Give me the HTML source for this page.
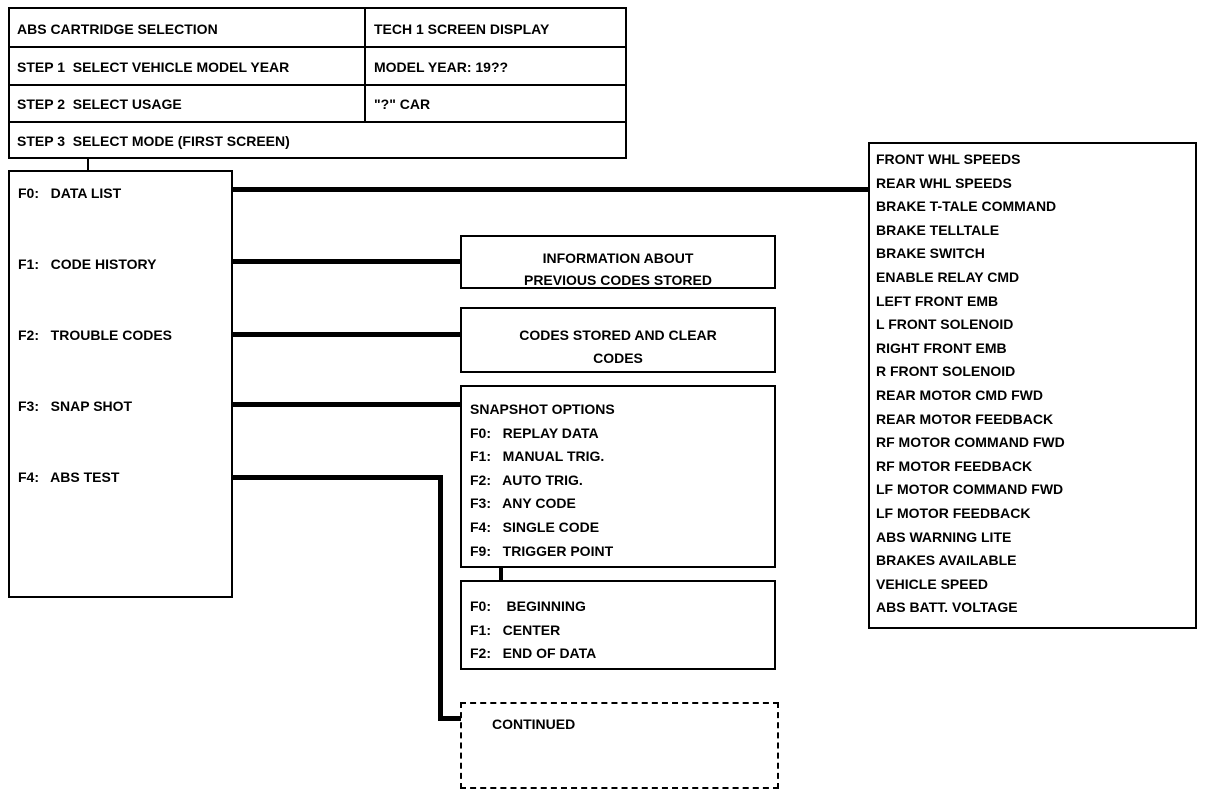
<!DOCTYPE html>
<html><head><style>
body{margin:0;width:1216px;height:796px;background:#fff;position:relative;overflow:hidden;font-family:"Liberation Sans",sans-serif;font-weight:bold;font-size:14px;color:#000}
.b{position:absolute;border:2px solid #000;box-sizing:border-box}
.t{position:absolute;white-space:nowrap;line-height:1}
.l{position:absolute;background:#000}
</style></head><body>
<div class="b" style="left:8px;top:7px;width:619px;height:152px"></div>
<div class="l" style="left:8px;top:46px;width:619px;height:2px"></div>
<div class="l" style="left:8px;top:84px;width:619px;height:2px"></div>
<div class="l" style="left:8px;top:121px;width:619px;height:2px"></div>
<div class="l" style="left:364px;top:7px;width:2px;height:116px"></div>
<div class="t" style="left:17px;top:22px">ABS CARTRIDGE SELECTION</div>
<div class="t" style="left:374px;top:22px">TECH 1 SCREEN DISPLAY</div>
<div class="t" style="left:17px;top:60px">STEP 1&nbsp; SELECT VEHICLE MODEL YEAR</div>
<div class="t" style="left:374px;top:60px">MODEL YEAR: 19??</div>
<div class="t" style="left:17px;top:97px">STEP 2&nbsp; SELECT USAGE</div>
<div class="t" style="left:374px;top:97px">"?" CAR</div>
<div class="t" style="left:17px;top:134px">STEP 3&nbsp; SELECT MODE (FIRST SCREEN)</div>
<div class="l" style="left:87px;top:159px;width:2px;height:12px"></div>

<div class="b" style="left:8px;top:170px;width:225px;height:428px"></div>
<div class="t" style="left:18px;top:186px">F0:&nbsp;&nbsp; DATA LIST</div>
<div class="t" style="left:18px;top:257px">F1:&nbsp;&nbsp; CODE HISTORY</div>
<div class="t" style="left:18px;top:328px">F2:&nbsp;&nbsp; TROUBLE CODES</div>
<div class="t" style="left:18px;top:399px">F3:&nbsp;&nbsp; SNAP SHOT</div>
<div class="t" style="left:18px;top:470px">F4:&nbsp;&nbsp; ABS TEST</div>

<div class="l" style="left:233px;top:187px;width:636px;height:5px"></div>
<div class="l" style="left:233px;top:259px;width:228px;height:5px"></div>
<div class="l" style="left:233px;top:332px;width:228px;height:5px"></div>
<div class="l" style="left:233px;top:402px;width:228px;height:5px"></div>
<div class="l" style="left:233px;top:475px;width:210px;height:5px"></div>
<div class="l" style="left:438px;top:475px;width:5px;height:246px"></div>
<div class="l" style="left:438px;top:716px;width:23px;height:5px"></div>

<div class="b" style="left:460px;top:235px;width:316px;height:54px"></div>
<div class="t" style="left:460px;top:247px;width:316px;text-align:center;line-height:22px">INFORMATION ABOUT<br>PREVIOUS CODES STORED</div>
<div class="b" style="left:460px;top:307px;width:316px;height:66px"></div>
<div class="t" style="left:460px;top:324px;width:316px;text-align:center;line-height:23px">CODES STORED AND CLEAR<br>CODES</div>
<div class="b" style="left:460px;top:385px;width:316px;height:183px"></div>
<div class="t" style="left:470px;top:398px;line-height:23.6px">SNAPSHOT OPTIONS<br>F0:&nbsp;&nbsp; REPLAY DATA<br>F1:&nbsp;&nbsp; MANUAL TRIG.<br>F2:&nbsp;&nbsp; AUTO TRIG.<br>F3:&nbsp;&nbsp; ANY CODE<br>F4:&nbsp;&nbsp; SINGLE CODE<br>F9:&nbsp;&nbsp; TRIGGER POINT</div>
<div class="l" style="left:499px;top:567px;width:4px;height:14px"></div>
<div class="b" style="left:460px;top:580px;width:316px;height:90px"></div>
<div class="t" style="left:470px;top:595px;line-height:23.5px">F0:&nbsp;&nbsp;&nbsp; BEGINNING<br>F1:&nbsp;&nbsp; CENTER<br>F2:&nbsp;&nbsp; END OF DATA</div>
<div class="b" style="left:460px;top:702px;width:319px;height:87px;border:2px dashed #000"></div>
<div class="t" style="left:492px;top:717px">CONTINUED</div>

<div class="b" style="left:868px;top:142px;width:329px;height:487px"></div>
<div class="t" style="left:876px;top:148px;line-height:23.6px">FRONT WHL SPEEDS<br>REAR WHL SPEEDS<br>BRAKE T-TALE COMMAND<br>BRAKE TELLTALE<br>BRAKE SWITCH<br>ENABLE RELAY CMD<br>LEFT FRONT EMB<br>L FRONT SOLENOID<br>RIGHT FRONT EMB<br>R FRONT SOLENOID<br>REAR MOTOR CMD FWD<br>REAR MOTOR FEEDBACK<br>RF MOTOR COMMAND FWD<br>RF MOTOR FEEDBACK<br>LF MOTOR COMMAND FWD<br>LF MOTOR FEEDBACK<br>ABS WARNING LITE<br>BRAKES AVAILABLE<br>VEHICLE SPEED<br>ABS BATT. VOLTAGE</div>
</body></html>
